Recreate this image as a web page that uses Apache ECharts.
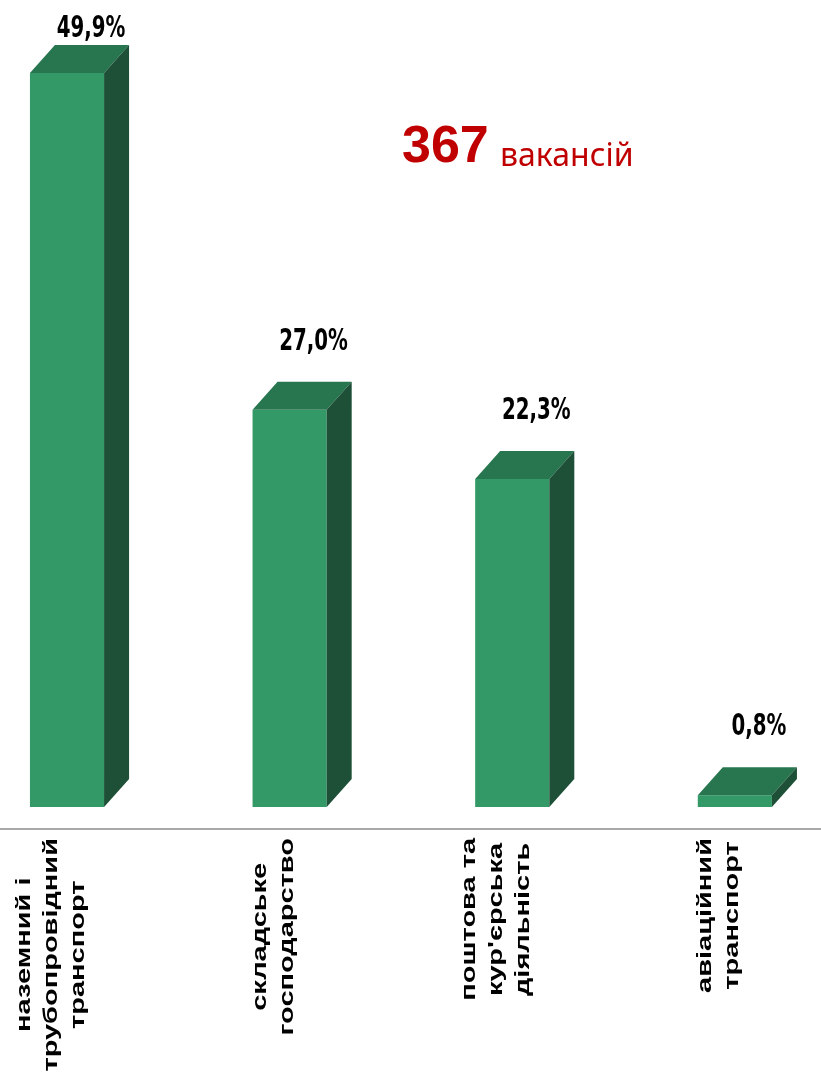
<!DOCTYPE html>
<html>
<head>
<meta charset="utf-8">
<title>Вакансії: транспорт</title>
<script src="https://cdn.jsdelivr.net/npm/echarts@6/dist/echarts.min.js"></script>
<style>
  html, body { margin: 0; padding: 0; background: #fff; }
  #chart { width: 821px; height: 1083px; }
</style>
</head>
<body>
<div id="chart"></div>
<script>
// дані
var categories = [
  'наземний і\nтрубопровідний\nтранспорт',
  'складське\nгосподарство',
  'поштова та\nкур\'єрська\nдіяльність',
  'авіаційний\nтранспорт'
];
var shares = [49.9, 27.0, 22.3, 0.8];
var vacancyTotal = 367;
var vacancyWord = 'вакансій';

// кольори псевдо-3D стовпчиків
var colFront = '#339966';
var colTop = '#27764f';
var colSide = '#1e4f37';
var depthX = 25, depthY = 28;

var valFont = 'bold 22px "Liberation Sans Narrow", "DejaVu Sans Condensed", sans-serif';
var catFont = 'bold 21px "Liberation Sans", Arial, sans-serif';
var catStretch = 1.38;

var measureCtx = document.createElement('canvas').getContext('2d');
function textWidth(str, font) {
  measureCtx.font = font;
  return measureCtx.measureText(str).width;
}

function fmtPct(v) {
  return v.toFixed(1).replace('.', ',') + '%';
}

function renderBar(params, api) {
  var i = api.value(0);
  var v = api.value(1);
  var p = api.coord([i, v]);
  var b = api.coord([i, 0]);
  var w = api.size([1, 0])[0] * 0.333;
  var x0 = p[0] - w / 2, x1 = p[0] + w / 2;
  var yt = p[1], yb = b[1];
  var name = categories[i];
  var maxW = Math.max.apply(null, name.split('\n').map(function (s) {
    return textWidth(s, catFont);
  }));
  return {
    type: 'group',
    children: [
      {
        type: 'rect',
        shape: { x: x0, y: yt, width: w, height: yb - yt },
        style: { fill: colFront }
      },
      {
        type: 'polygon',
        shape: { points: [[x0, yt], [x1, yt], [x1 + depthX, yt - depthY], [x0 + depthX, yt - depthY]] },
        style: { fill: colTop }
      },
      {
        type: 'polygon',
        shape: { points: [[x1, yt], [x1 + depthX, yt - depthY], [x1 + depthX, yb - depthY], [x1, yb]] },
        style: { fill: colSide }
      },
      {
        type: 'text',
        x: p[0] + 24,
        y: Math.max(yt - 68, 29),
        scaleY: 1.35,
        style: { text: fmtPct(v), font: valFont, fill: '#000', align: 'center', verticalAlign: 'middle' }
      },
      {
        type: 'text',
        x: p[0] - 16,
        y: yb + 31 + maxW * catStretch / 2,
        rotation: Math.PI / 2,
        scaleX: catStretch,
        style: { text: name, font: catFont, lineHeight: 27, fill: '#000', align: 'center', verticalAlign: 'middle' }
      }
    ]
  };
}

var chart = echarts.init(document.getElementById('chart'));
chart.setOption({
  backgroundColor: '#fff',
  animation: false,
  grid: { left: 0, right: 0, top: 71.5, bottom: 276 },
  xAxis: {
    type: 'value',
    min: -0.301,
    max: 3.387,
    offset: 22,
    splitLine: { show: false },
    axisLine: { show: true, onZero: false, lineStyle: { color: '#a9a9a9', width: 2 } },
    axisTick: { show: false },
    axisLabel: { show: false }
  },
  yAxis: {
    type: 'value',
    min: 0,
    max: 50,
    show: false,
    splitLine: { show: false }
  },
  graphic: [
    {
      type: 'text',
      x: 402, y: 174,
      style: { text: String(vacancyTotal), font: 'bold 52px "Liberation Sans", Arial, sans-serif', fill: '#c00000', verticalAlign: 'bottom' }
    },
    {
      type: 'text',
      x: 500, y: 173,
      style: { text: vacancyWord, font: '32px "Noto Sans", sans-serif', fill: '#c00000', verticalAlign: 'bottom' }
    }
  ],
  series: [{
    type: 'custom',
    renderItem: renderBar,
    encode: { x: 0, y: 1 },
    data: shares.map(function (v, i) { return [i, v]; })
  }]
});
</script>
</body>
</html>
